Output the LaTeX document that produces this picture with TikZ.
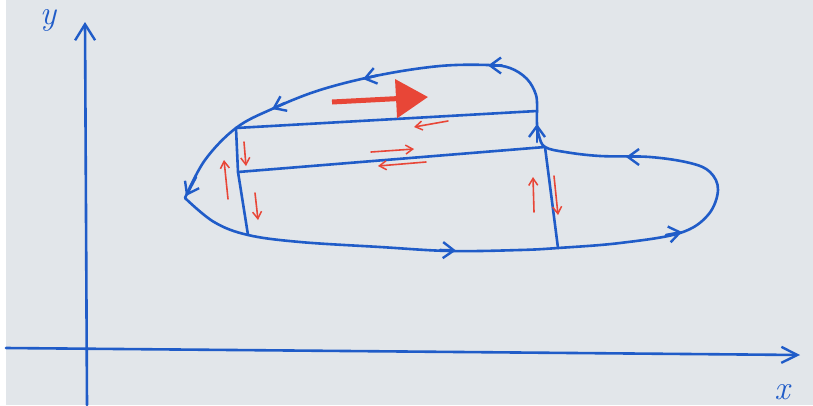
\documentclass[tikz,border=0pt]{standalone}
\usetikzlibrary{arrows.meta}
\definecolor{ink}{RGB}{32,92,200}
\definecolor{redink}{RGB}{232,70,55}
\definecolor{paper}{RGB}{226,230,234}
\tikzset{
  pen/.style={draw=ink,line width=2.6pt,line cap=round,line join=round},
  vtip/.style={pen,-{Straight Barb[length=11pt,width=16pt,line width=2.4pt]}},
  redpen/.style={draw=redink,line width=1.6pt,line cap=round,-{Straight Barb[length=7pt,width=9pt,line width=1.5pt]}},
  lbl/.style={text=ink,font=\fontsize{34}{34}\selectfont\itshape,inner sep=0pt}
}
\begin{document}
\begin{tikzpicture}[x=1pt,y=-1pt]
\useasboundingbox (0,0) rectangle (813,405);
\fill[paper] (0,0) rectangle (813,405);
\fill[white] (0,0) rectangle (6,405);
% axes
\coordinate (yb) at (87,405);
\coordinate (yt) at (85,22);
\coordinate (xl) at (6,348);
\coordinate (xr) at (800,355);
\draw[pen,-{Straight Barb[length=16pt,width=20pt,line width=2.4pt]}] (yb) -- (yt);
\draw[pen,-{Straight Barb[length=16pt,width=16pt,line width=2.4pt]}] (xl) -- (xr);
\node[lbl,anchor=north] (ylab) at (48,9) {y};
\node[lbl,anchor=south] (xlab) at (782,400) {x};
% key points
\coordinate (A) at (236,128);  % upper left junction
\coordinate (B) at (537,111);  % upper right junction
\coordinate (C) at (238,172);  % middle left
\coordinate (D) at (545,147);  % middle right
\coordinate (E) at (248,235);  % bottom left
\coordinate (F) at (558,248);  % bottom right
\coordinate (T) at (185,198);  % left tip
% outer curve: top arc
\draw[pen] plot[smooth,tension=0.6] coordinates {(B) (536,95) (527,79) (510,68) (488,65) (440,66) (380,75) (320,90) (272,109) (A) (205,160) (T)};
% bottom and tongue
\draw[pen] plot[smooth,tension=0.6] coordinates {(T) (214,222) (E) (300,242) (380,247) (450,251) (520,250) (F) (620,243) (680,233) (708,215) (718,190) (710,172) (690,163) (650,157) (600,156) (565,152) (D) (539,136) (537,124) (B)};
% inner lines
\draw[pen] (A) -- (B);
\draw[pen] (C) -- (D);
\draw[pen] (A) -- (C) -- (E);
\draw[pen] (D) -- (F);
% blue arrowheads
\draw[vtip] (502,65.5) -- (488,65.5);
\draw[vtip] (377,75.5) -- (363,79);
\draw[vtip] (285,103) -- (272,109);
\draw[vtip] (196,177) -- (186,196);
\draw[vtip] (537,142) -- (537,124);
\draw[vtip] (642,157) -- (626,157);
\draw[vtip] (666,235) -- (682,232);
\draw[vtip] (440,250) -- (456,250.5);
% big red arrow
\coordinate (ra) at (332,102);
\coordinate (rb) at (428,97);
\draw[draw=redink,line width=5pt,-{Triangle[length=32pt,width=38pt]}] (ra) -- (rb);
% small red arrows
\draw[redpen] (448,121) -- (414,127);
\draw[redpen] (371,152) -- (414,149);
\draw[redpen] (426,162) -- (378,166);
\draw[redpen] (244,142) -- (246,166);
\draw[redpen] (228,199) -- (224,160);
\draw[redpen] (255,193) -- (258,220);
\draw[redpen] (534,212) -- (533,177);
\draw[redpen] (554,176) -- (558,215);
\end{tikzpicture}
\end{document}
